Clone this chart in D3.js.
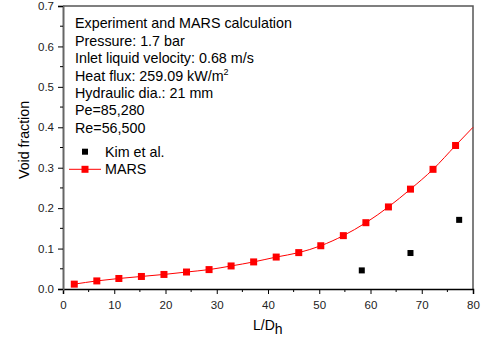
<!DOCTYPE html>
<html>
<head>
<meta charset="utf-8">
<script src="https://cdn.jsdelivr.net/npm/d3@7"></script>
<style>
  body { margin: 0; background: #fff; }
  svg { display: block; font-family: Arial, "Liberation Sans", sans-serif; }
</style>
</head>
<body>
<svg id="chart" width="485" height="338"></svg>
<script>
// MARS calculation (markers)
const marsX = [2.2, 6.6, 10.9, 15.3, 19.7, 24.1, 28.5, 32.8, 37.2, 41.6, 46.0, 50.3, 54.7, 59.1, 63.5, 67.8, 72.2, 76.6]
const marsY = [0.012, 0.020, 0.026, 0.031, 0.036, 0.042, 0.048, 0.057, 0.067, 0.079, 0.090, 0.107, 0.132, 0.164, 0.203, 0.247, 0.296, 0.355]
// the MARS curve runs on to the frame edge
const marsTailX = [80]
const marsTailY = [0.40]
// Kim et al. experiment
const kimX = [58.3, 67.8, 77.3]
const kimY = [0.046, 0.089, 0.171]

const xTicks = [0, 10, 20, 30, 40, 50, 60, 70, 80]
const yTicks = [0.0, 0.1, 0.2, 0.3, 0.4, 0.5, 0.6, 0.7]

const infoLines = [
  'Experiment and MARS calculation',
  'Pressure: 1.7 bar',
  'Inlet liquid velocity: 0.68 m/s',
  'Heat flux: 259.09 kW/m',
  'Hydraulic dia.: 21 mm',
  'Pe=85,280',
  'Re=56,500'
]

const margin = { top: 6, right: 12, bottom: 49, left: 63 }
const width = 485
const height = 338

const svg = d3.select('#chart')

const x = d3.scaleLinear().domain([0, 80]).range([margin.left, width - margin.right])
const y = d3.scaleLinear().domain([0, 0.7]).range([height - margin.bottom, margin.top])

// frame (top + right)
svg.append('path')
  .attr('d', `M${x(0)},${y(0.7)}H${x(80)}V${y(0)}`)
  .attr('fill', 'none')
  .attr('stroke', '#555')
  .attr('stroke-width', 1.5)

// x axis
const xAxis = svg.append('g').attr('transform', `translate(0,${y(0)})`)
xAxis.call(d3.axisBottom(x).tickValues(xTicks).tickSize(5).tickPadding(6.5).tickFormat(d3.format('d')))
xAxis.selectAll('.minor')
  .data(d3.range(5, 80, 10))
  .enter()
  .append('line')
  .attr('class', 'minor')
  .attr('x1', d => x(d)).attr('x2', d => x(d))
  .attr('y1', 0).attr('y2', 3)
  .attr('stroke', '#000')
xAxis.select('.domain').attr('stroke', '#000').attr('stroke-width', 1.5)

// y axis
const yAxis = svg.append('g').attr('transform', `translate(${x(0)},0)`)
yAxis.call(d3.axisLeft(y).tickValues(yTicks).tickSize(5).tickPadding(4).tickFormat(d3.format('.1f')))
yAxis.selectAll('.minor')
  .data(d3.range(0.05, 0.7, 0.1))
  .enter()
  .append('line')
  .attr('class', 'minor')
  .attr('x1', -3).attr('x2', 0)
  .attr('y1', d => y(d)).attr('y2', d => y(d))
  .attr('stroke', '#000')
yAxis.select('.domain').attr('stroke', '#666').attr('stroke-width', 2)

svg.selectAll('.tick text').attr('font-size', 11.5).attr('fill', '#222')

// MARS curve
const marsLine = marsX.map((d, i) => [d, marsY[i]])
  .concat(marsTailX.map((d, i) => [d, marsTailY[i]]))
svg.append('path')
  .datum(marsLine)
  .attr('fill', 'none')
  .attr('stroke', '#f00')
  .attr('stroke-width', 1)
  .attr('d', d3.line().x(d => x(d[0])).y(d => y(d[1])).curve(d3.curveMonotoneX))

const sq = 7
svg.append('g').selectAll('rect')
  .data(marsX.map((d, i) => [d, marsY[i]]))
  .join('rect')
  .attr('x', d => x(d[0]) - sq / 2)
  .attr('y', d => y(d[1]) - sq / 2)
  .attr('width', sq).attr('height', sq)
  .attr('fill', '#f00')

svg.append('g').selectAll('rect')
  .data(kimX.map((d, i) => [d, kimY[i]]))
  .join('rect')
  .attr('x', d => x(d[0]) - 3)
  .attr('y', d => y(d[1]) - 3)
  .attr('width', 6).attr('height', 6)
  .attr('fill', '#000')

// info text
const info = svg.append('text')
  .attr('font-size', 14.3)
  .attr('fill', '#000')
infoLines.forEach((t, i) => {
  info.append('tspan').attr('x', 75).attr('y', 28.3 + i * 17.4).text(t)
  if (i === 3) {
    info.append('tspan').attr('font-size', 9).attr('dy', -6).text('2')
  }
})

// legend
const legend = svg.append('g')
legend.append('rect').attr('x', 82).attr('y', 148.7).attr('width', 6).attr('height', 6).attr('fill', '#000')
legend.append('text').attr('x', 105).attr('y', 157.3).attr('font-size', 14.3).text('Kim et al.')
legend.append('line').attr('x1', 69).attr('x2', 101).attr('y1', 169.3).attr('y2', 169.3).attr('stroke', '#f00')
legend.append('rect').attr('x', 85 - sq / 2).attr('y', 169.3 - sq / 2).attr('width', sq).attr('height', sq).attr('fill', '#f00')
legend.append('text').attr('x', 105).attr('y', 173.5).attr('font-size', 14.3).text('MARS')

// axis titles
svg.append('text')
  .attr('transform', 'translate(29,140) rotate(-90)')
  .attr('text-anchor', 'middle')
  .attr('font-size', 14.2)
  .text('Void fraction')

const xt = svg.append('text')
  .attr('x', 253).attr('y', 329.5)
  .attr('font-size', 14)
xt.append('tspan').text('L/D')
xt.append('tspan').attr('dy', 4).attr('font-size', 14).text('h')
</script>
</body>
</html>
